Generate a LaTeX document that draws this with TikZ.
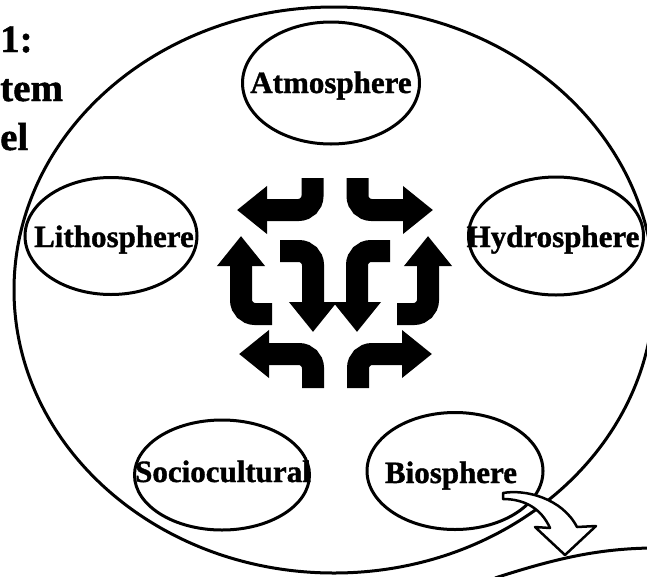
\documentclass[tikz,border=0pt]{standalone}
\usepackage{fontspec}
\setmainfont{Liberation Serif}[BoldFeatures={FakeBold=1.2}]
\usetikzlibrary{shapes.geometric,arrows.meta}
\begin{document}
\begin{tikzpicture}[x=1pt,y=-1pt,
  sphere/.style={draw, ellipse, line width=3pt, inner sep=0pt},
  lbl/.style={font=\fontsize{31}{36}\selectfont\bfseries, inner sep=0pt, anchor=base},
  ttl/.style={font=\fontsize{39}{47}\selectfont\bfseries, inner sep=0pt, anchor=base west},
  bent/.style={line width=22pt, rounded corners=14pt, -{Triangle[length=30pt,width=46pt]}},
  hollow/.style={draw, fill=white, line width=2.5pt, line join=round}]
\useasboundingbox (0,0) rectangle (647,576);
\clip (0,0) rectangle (647,576);
% title fragments
\node[ttl] (t1) at (0,52) {1:};
\node[ttl] (t2) at (0,101) {tem};
\node[ttl] (t3) at (0,150) {el};
% big system ellipse
\node[sphere, minimum width=640pt, minimum height=566pt] (sys) at (334,290) {};
% spheres
\node[sphere, minimum width=177pt, minimum height=122pt] (atm) at (331,83) {};
\node[sphere, minimum width=172pt, minimum height=117pt] (lith) at (111,236) {};
\node[sphere, minimum width=175pt, minimum height=118pt] (hyd) at (556,236) {};
\node[sphere, minimum width=175pt, minimum height=110pt] (soc) at (222,475) {};
\node[sphere, minimum width=176pt, minimum height=117pt] (bio) at (455,471) {};
% labels
\node[lbl] (atmt) at (331,93) {Atmosphere};
\node[lbl] (litht) at (114,247) {Lithosphere};
\node[lbl] (hydt) at (553,247) {Hydrosphere};
\node[lbl] (soct) at (223,482) {Sociocultural};
\node[lbl] (biot) at (451,483) {Biosphere};
% central bent arrows
\draw[bent] (312.5,178) -- (312.5,210) -- (237,210);
\draw[bent] (357.5,178) -- (357.5,210) -- (433,210);
\draw[bent] (272,314) -- (241,314) -- (241,236);
\draw[bent] (397,314) -- (428,314) -- (428,236);
\draw[bent] (280,251) -- (313,251) -- (313,332);
\draw[bent] (390,251) -- (357,251) -- (357,332);
\draw[bent] (313,388) -- (313,354) -- (239,354);
\draw[bent] (358,388) -- (358,354) -- (432,354);
% hollow arrow out of the biosphere
\path[hollow] (503,493) .. controls (525,489) and (562,498) .. (577,527)
  -- (596,526) -- (565,555) -- (535,527) -- (550,528)
  .. controls (541,508) and (524,499) .. (503,499) -- cycle;
% part of a further circle
\draw[line width=3pt] (495,578) .. controls (560,557) and (600,549) .. (650,548);
\end{tikzpicture}
\end{document}
